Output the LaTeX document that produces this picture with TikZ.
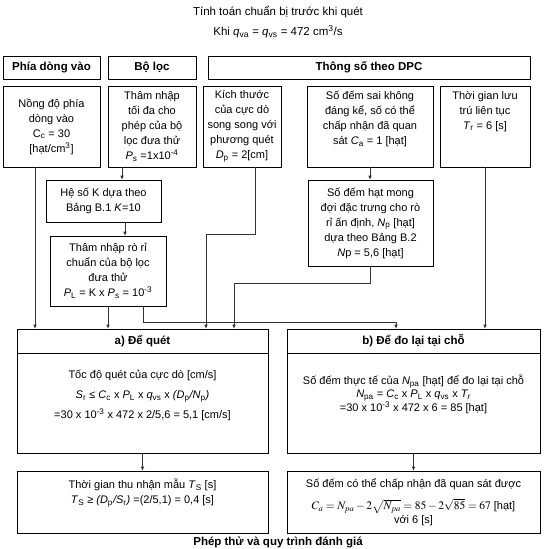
\documentclass[tikz,border=0pt]{standalone}
\usepackage{mathptmx}
\usepackage[no-math]{fontspec}
\setmainfont{Liberation Sans}
\usetikzlibrary{positioning, arrows.meta, calc}
\tikzset{
  cbox/.style  = {draw, line width=0.6pt, align=center, inner sep=2pt, font=\fontsize{11}{15}\selectfont},
  hdbox/.style = {cbox, font=\fontsize{11.5}{14}\selectfont\bfseries},
  txt/.style   = {align=center, inner sep=0pt, font=\fontsize{11}{15}\selectfont},
  fwd/.style   = {-{Latex[length=4pt,width=3.5pt]}, line width=0.6pt, draw=black!80}
}
\newcommand{\vsub}[2]{\textit{#1}\textsubscript{#2}}
\newcommand{\sps}[1]{\textsuperscript{#1}}

\begin{document}
\begin{tikzpicture}[x=1pt, y=-1pt]
  \useasboundingbox (0,0) rectangle (549,549);

  % --- Title ---------------------------------------------------------------
  \node[txt, font=\fontsize{11.5}{14}\selectfont] (title) at (278,12) {Tính toán chuẩn bị trước khi quét};
  \node[txt, font=\fontsize{11.5}{14}\selectfont] (cond)  at (278,32) {Khi \vsub{q}{va} = \vsub{q}{vs} = 472 cm\sps{3}/s};

  % --- Header row ----------------------------------------------------------
  \node[hdbox, minimum width=97,  minimum height=23] (inflowhd) at (51.5,67.5) {Phía dòng vào};
  \node[hdbox, minimum width=88,  minimum height=23] (filterhd) at (152,67.5)  {Bộ lọc};
  \node[hdbox, minimum width=322, minimum height=23] (dpchd)    at (369,67.5)  {Thông số theo DPC};

  % --- Input boxes ---------------------------------------------------------
  \node[cbox, minimum width=97, minimum height=81] (inflow) at (51.5,126.5)
    {Nồng độ phía\\dòng vào\\C\textsubscript{c} = 30\\{}[hạt/cm\sps{3}]};
  \node[cbox, minimum width=88, minimum height=81] (maxpen) at (152,126.5)
    {Thâm nhập\\tối đa cho\\phép của bộ\\lọc đưa thử\\\vsub{P}{s} =1x10\sps{-4}};
  \node[cbox, minimum width=78, minimum height=81] (probe) at (242,126.5)
    {Kích thước\\của cực dò\\song song với\\phương quét\\\vsub{D}{p} = 2[cm]};
  \node[cbox, minimum width=126, minimum height=81] (falsecnt) at (370,126.5) {};
  \node[txt, anchor=north] (falsetxt) at ([yshift=-5]falsecnt.north)
    {Số đếm sai không\\đáng kể, số có thể\\chấp nhận đã quan\\sát \vsub{C}{a} = 1 [hạt]};
  \node[cbox, minimum width=90, minimum height=81] (dwell) at (485,126.5) {};
  \node[txt, anchor=north] (dwelltxt) at ([yshift=-5]dwell.north)
    {Thời gian lưu\\trú liên tục\\\vsub{T}{r} = 6 [s]};

  % --- Intermediate boxes --------------------------------------------------
  \node[cbox, minimum width=115, minimum height=42] (kfac) at (103.5,201)
    {Hệ số K dựa theo\\Bảng B.1 \textit{K}=10};
  \node[cbox, minimum width=116, minimum height=70] (leak) at (108,271)
    {Thâm nhập rò rỉ\\chuẩn của bộ lọc\\đưa thử\\\vsub{P}{L} = K x \vsub{P}{s} = 10\sps{-3}};
  \node[cbox, minimum width=125, minimum height=86] (npbox) at (370.5,223)
    {Số đếm hạt mong\\đợi đặc trưng cho rò\\rỉ ấn định, \vsub{N}{p} [hạt]\\dựa theo Bảng B.2\\\textit{N}p = 5,6 [hạt]};

  % --- a) scanning ---------------------------------------------------------
  \node[hdbox, minimum width=251, minimum height=24]  (scanhd) at (142.5,341) {a) Để quét};
  \node[cbox,  minimum width=251, minimum height=100] (scanbd) at (142.5,403) {};
  \node[txt, anchor=north] (scantxt) at ([yshift=-17]scanbd.north)
    {Tốc độ quét của cực dò [cm/s]\\[5pt]
     \vsub{S}{r} ≤ \vsub{C}{c} x \vsub{P}{L} x \vsub{q}{vs} x \textit{(D}\textsubscript{p}\textit{/N}\textsubscript{p}\textit{)}\\[5pt]
     =30 x 10\sps{-3} x 472 x 2/5,6 = 5,1 [cm/s]};

  % --- b) in-place recount -------------------------------------------------
  \node[hdbox, minimum width=253, minimum height=24]  (redohd) at (413.5,341) {b) Để đo lại tại chỗ};
  \node[cbox,  minimum width=253, minimum height=100] (redobd) at (413.5,403) {};
  \node[txt, anchor=north, font=\fontsize{11}{13.5}\selectfont] (redotxt) at ([yshift=-22]redobd.north)
    {Số đếm thực tế của \vsub{N}{pa} [hạt] để đo lại tại chỗ\\
     \vsub{N}{pa} = \vsub{C}{c} x \vsub{P}{L} x \vsub{q}{vs} x \textit{T\textsubscript{r}}\\
     =30 x 10\sps{-3} x 472 x 6 = 85 [hạt]};

  % --- Results -------------------------------------------------------------
  \node[cbox, minimum width=251, minimum height=62] (stime) at (142.5,502) {};
  \node[txt, anchor=north] (stimetxt) at ([yshift=-8]stime.north)
    {Thời gian thu nhận mẫu \vsub{T}{S} [s]\\
     \vsub{T}{S} ≥ \textit{(D}\textsubscript{p}\textit{/S}\textsubscript{r}\textit{)} =(2/5,1) = 0,4 [s]};
  \node[cbox, minimum width=253, minimum height=62, inner sep=1pt] (accept) at (413.5,502)
    {Số đếm có thể chấp nhận đã quan sát được\\[7pt]
     {\fontsize{11.5}{13}\selectfont$C_a = N_{pa} - 2\sqrt{N_{pa}} = 85 - 2\sqrt{85} = 67$} [hạt]\\[-1pt]
     với 6 [s]};

  \node[txt, font=\fontsize{11.5}{14}\selectfont\bfseries] (footer) at (278,542) {Phép thử và quy trình đánh giá};

  % --- Connectors ----------------------------------------------------------
  \coordinate (inflowout) at ([xshift=-16.5]inflow.south);
  \coordinate (maxpenout) at ([xshift=-30]maxpen.south);
  \coordinate (kfacout)   at ([xshift=21.5]kfac.south);
  \coordinate (leakout)   at ([xshift=35]leak.south);
  \coordinate (probeout)  at ([xshift=13]probe.south);
  \coordinate (probein)   at ([xshift=63.5]scanhd.north);
  \coordinate (npin)      at ([xshift=91.5]scanhd.north);
  \coordinate (redoin)    at ([xshift=-17.5]redohd.north);

  \draw[fwd] (inflowout) -- (inflowout |- scanhd.north);
  \draw[fwd] (maxpenout) -- (maxpenout |- kfac.north);
  \draw[fwd] (kfacout)   -- (kfacout |- leak.north);
  \draw[fwd] (leak.south) -- (leak.south |- scanhd.north);
  \draw[fwd] (leakout) -- ++(0,16) -| (redoin);
  \draw[fwd] (probeout) -- ++(0,67) -| (probein);
  \draw[fwd] (falsecnt.south) -- (falsecnt.south |- npbox.north);
  \draw[fwd] (npbox.south) -- ++(0,17) -| (npin);
  \draw[fwd] (dwell.south) -- (dwell.south |- redohd.north);
  \draw[fwd] (scanbd.south) -- (stime.north);
  \draw[fwd] (redobd.south) -- (accept.north);

\end{tikzpicture}
\end{document}
